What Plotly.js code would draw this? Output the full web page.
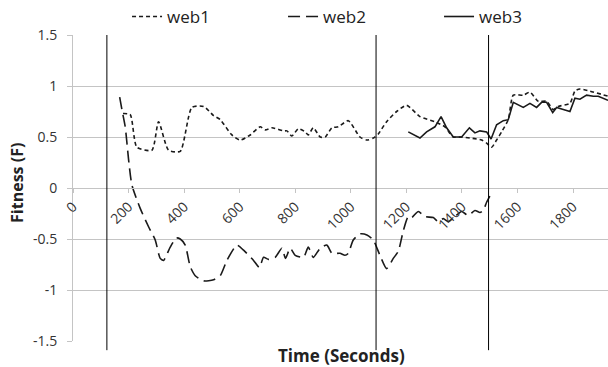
<!DOCTYPE html>
<html>
<head>
<meta charset="utf-8">
<script src="https://cdn.plot.ly/plotly-3.0.1.min.js"></script>
<style>
html,body{margin:0;padding:0;background:#fff;}
#chart{width:608px;height:367px;}
</style>
</head>
<body>
<div id="chart"></div>
<script>
// ---- data ----
var seriesNames = ["web1", "web2", "web3"];

var web1Time = [180, 206, 230, 284, 308, 344, 386, 428, 470, 506, 530, 572, 602, 638, 674, 692, 716, 758, 770, 788, 811, 836, 847, 865, 890, 908, 932, 955, 991, 1033, 1058, 1081, 1099, 1129, 1165, 1201, 1249, 1303, 1339, 1369, 1399, 1429, 1471, 1489, 1507, 1525, 1543, 1567, 1585, 1621, 1645, 1675, 1705, 1729, 1747, 1789, 1807, 1825, 1861, 1926];
var web1Fitness = [0.73, 0.72, 0.40, 0.37, 0.65, 0.37, 0.36, 0.79, 0.80, 0.71, 0.67, 0.52, 0.47, 0.52, 0.60, 0.57, 0.59, 0.56, 0.56, 0.51, 0.58, 0.55, 0.52, 0.59, 0.50, 0.50, 0.59, 0.60, 0.66, 0.50, 0.47, 0.49, 0.53, 0.65, 0.75, 0.81, 0.70, 0.65, 0.60, 0.50, 0.50, 0.49, 0.47, 0.44, 0.40, 0.47, 0.55, 0.67, 0.91, 0.91, 0.94, 0.85, 0.85, 0.77, 0.80, 0.83, 0.95, 0.97, 0.95, 0.90];

var web2Time = [168, 176, 188, 200, 212, 242, 272, 296, 314, 326, 350, 372, 386, 404, 422, 440, 470, 506, 530, 554, 590, 614, 650, 671, 686, 704, 728, 752, 765, 782, 800, 830, 847, 865, 890, 914, 932, 961, 979, 991, 1009, 1033, 1058, 1081, 1105, 1129, 1153, 1171, 1189, 1207, 1219, 1243, 1267, 1297, 1315, 1333, 1351, 1375, 1399, 1423, 1447, 1465, 1477, 1489, 1507];
var web2Fitness = [0.89, 0.77, 0.60, 0.28, 0.03, -0.20, -0.38, -0.51, -0.69, -0.71, -0.58, -0.49, -0.50, -0.56, -0.77, -0.86, -0.91, -0.90, -0.86, -0.71, -0.56, -0.61, -0.71, -0.78, -0.68, -0.70, -0.68, -0.59, -0.69, -0.59, -0.66, -0.68, -0.58, -0.68, -0.59, -0.56, -0.64, -0.64, -0.66, -0.64, -0.51, -0.45, -0.46, -0.51, -0.66, -0.79, -0.69, -0.62, -0.42, -0.28, -0.29, -0.23, -0.28, -0.29, -0.33, -0.30, -0.33, -0.28, -0.23, -0.27, -0.22, -0.24, -0.22, -0.14, -0.05];

var web3Time = [1207, 1249, 1273, 1303, 1325, 1345, 1369, 1399, 1427, 1447, 1465, 1489, 1505, 1525, 1549, 1567, 1585, 1621, 1645, 1669, 1687, 1705, 1727, 1741, 1765, 1789, 1807, 1825, 1849, 1873, 1891, 1926];
var web3Fitness = [0.55, 0.49, 0.55, 0.60, 0.70, 0.59, 0.50, 0.50, 0.59, 0.54, 0.56, 0.55, 0.48, 0.62, 0.66, 0.67, 0.84, 0.79, 0.83, 0.79, 0.84, 0.84, 0.74, 0.79, 0.77, 0.75, 0.88, 0.87, 0.91, 0.90, 0.90, 0.86];

var eventTimes = [122, 1091, 1496];

var xTickVals = [0, 200, 400, 600, 800, 1000, 1200, 1400, 1600, 1800];
var xTickText = ["0", "200", "400", "600", "800", "1000", "1200", "1400", "1600", "1800"];
var yTickVals = [-1.5, -1, -0.5, 0, 0.5, 1, 1.5];
var yTickText = ["-1.5", "-1", "-0.5", "0", "0.5", "1", "1.5"];

var xTitle = "Time (Seconds)";
var yTitle = "Fitness (F)";

// ---- chart ----
var FONT = "Open Sans, DejaVu Sans, sans-serif";
var lineColor = "#1a1a1a";
var gridColor = "#c4c4c4";

var traces = [
  {x: web1Time, y: web1Fitness, name: seriesNames[0], mode: "lines",
   line: {color: lineColor, width: 1.6, dash: "4px,3px", shape: "spline", smoothing: 0.6}},
  {x: web2Time, y: web2Fitness, name: seriesNames[1], mode: "lines",
   line: {color: lineColor, width: 1.6, dash: "12px,6px", shape: "spline", smoothing: 0.6}},
  {x: web3Time, y: web3Fitness, name: seriesNames[2], mode: "lines",
   line: {color: lineColor, width: 1.6}}
];

var shapes = eventTimes.map(function (t) {
  return {type: "line", xref: "x", yref: "paper", x0: t, x1: t, y0: -0.03, y1: 1.0,
          line: {color: "#000", width: 1}};
});

var layout = {
  width: 608, height: 367,
  margin: {l: 73, r: 0, t: 35, b: 26, pad: 0, autoexpand: false},
  paper_bgcolor: "#fff", plot_bgcolor: "#fff",
  font: {family: FONT, size: 14, color: "#333"},
  showlegend: true,
  legend: {orientation: "h", x: 0.101, xanchor: "left", y: 1.059, yanchor: "middle",
           font: {family: FONT, size: 17, color: "#222"},
           entrywidth: 111, entrywidthmode: "pixels", bgcolor: "rgba(0,0,0,0)"},
  xaxis: {range: [0, 1926], anchor: "free", position: 0.5, showline: true,
          linecolor: gridColor, linewidth: 1, ticks: "outside", ticklen: 4, tickcolor: gridColor,
          tickvals: xTickVals, ticktext: xTickText, tickangle: -45, showgrid: false, zeroline: false,
          tickfont: {family: FONT, size: 14, color: "#333"}, fixedrange: true},
  yaxis: {range: [-1.5, 1.5], showline: true, linecolor: gridColor, linewidth: 1,
          ticks: "outside", ticklen: 5, tickcolor: gridColor, ticklabelstandoff: 7,
          tickvals: yTickVals, ticktext: yTickText, showgrid: true, gridcolor: gridColor,
          gridwidth: 1, zeroline: false, tickfont: {family: FONT, size: 14, color: "#333"}, fixedrange: true},
  shapes: shapes,
  annotations: [
    {text: "<b>" + xTitle + "</b>", xref: "paper", yref: "paper", x: 0.502, y: -0.046,
     xanchor: "center", yanchor: "middle", showarrow: false,
     font: {family: FONT, size: 17, color: "#222"}},
    {text: "<b>" + yTitle + "</b>", xref: "paper", yref: "paper", x: -0.105, y: 0.516,
     xanchor: "center", yanchor: "middle", textangle: -90, showarrow: false,
     font: {family: FONT, size: 16, color: "#222"}}
  ]
};

Plotly.newPlot("chart", traces, layout, {displayModeBar: false, staticPlot: true});
</script>
</body>
</html>
